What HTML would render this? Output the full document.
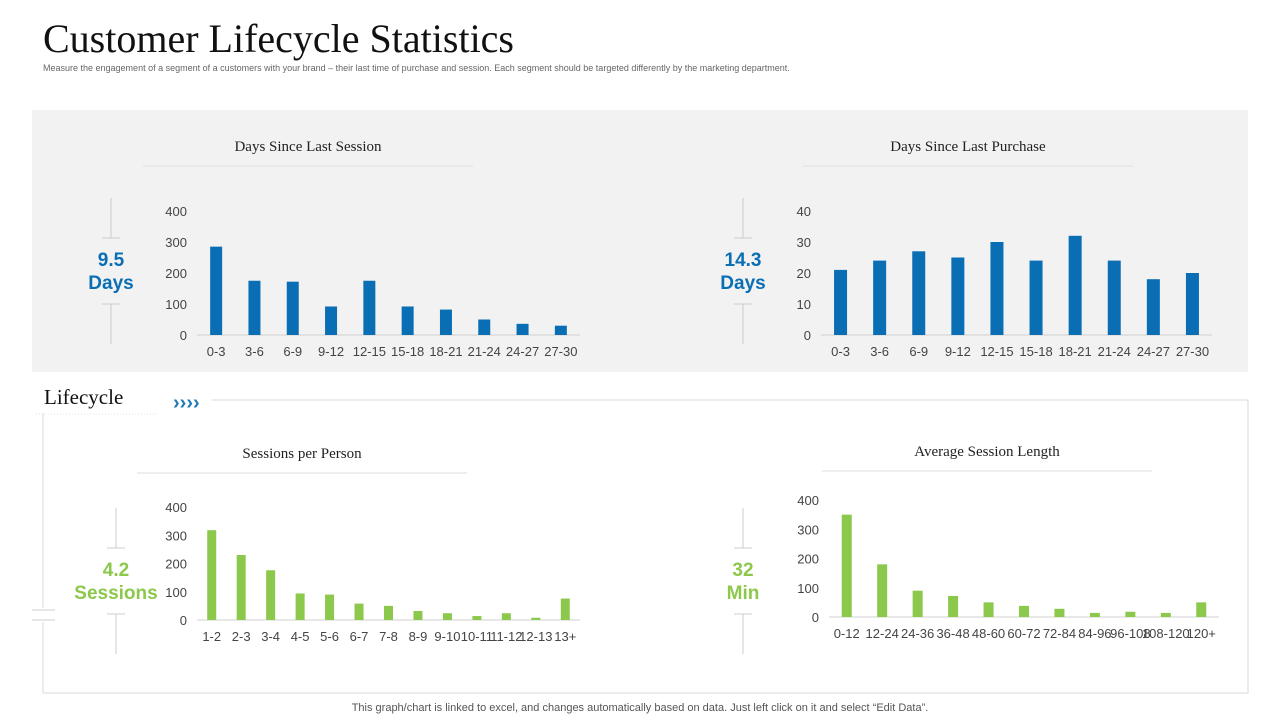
<!DOCTYPE html>
<html><head><meta charset="utf-8"><style>
body{margin:0;width:1280px;height:720px;background:#fff;overflow:hidden;font-family:"Liberation Sans",sans-serif;}
svg{position:absolute;left:0;top:0}
</style></head><body>
<svg width="1280" height="720">
<text x="43" y="52" font-family="Liberation Serif" font-size="40" fill="#111">Customer Lifecycle Statistics</text>
<text x="43" y="71" font-size="9" fill="#666">Measure the engagement of a segment of a customers with your brand – their last time of purchase and session. Each segment should be targeted differently by the marketing department.</text>
<rect x="32" y="110" width="1216" height="262" fill="#f2f2f2"/>
<rect x="43" y="400" width="1205" height="293" fill="none" stroke="#d9d9d9"/>
<rect x="32" y="383" width="180" height="30" fill="#fff"/>
<text x="44" y="404" font-family="Liberation Serif" font-size="21" fill="#111">Lifecycle</text>
<line x1="36" y1="414" x2="158" y2="414" stroke="#e0e0e0" stroke-dasharray="1 2"/>
<text x="173" y="409" font-size="20" fill="#1f7ab8" font-weight="bold">››››</text>
<rect x="30" y="608" width="30" height="14" fill="#fff"/>
<line x1="32" y1="610" x2="55" y2="610" stroke="#ccc"/><line x1="32" y1="620" x2="55" y2="620" stroke="#ccc"/>
<text x="640" y="711" text-anchor="middle" font-size="11" fill="#555">This graph/chart is linked to excel, and changes automatically based on data. Just left click on it and select “Edit Data”.</text>
<g id="charts"></g>
</svg>
<script>
const c1Cats=["0-3","3-6","6-9","9-12","12-15","15-18","18-21","21-24","24-27","27-30"];
const c1Vals=[285,175,172,92,175,92,82,50,36,30];
const c1Ticks=[0,100,200,300,400];
const c2Cats=["0-3","3-6","6-9","9-12","12-15","15-18","18-21","21-24","24-27","27-30"];
const c2Vals=[21,24,27,25,30,24,32,24,18,20];
const c2Ticks=[0,10,20,30,40];
const c3Cats=["1-2","2-3","3-4","4-5","5-6","6-7","7-8","8-9","9-10","10-11","11-12","12-13","13+"];
const c3Vals=[318,230,176,94,90,58,50,32,24,14,24,8,76];
const c3Ticks=[0,100,200,300,400];
const c4Cats=["0-12","12-24","24-36","36-48","48-60","60-72","72-84","84-96","96-108","108-120","120+"];
const c4Vals=[350,180,90,72,50,38,28,14,18,14,50];
const c4Ticks=[0,100,200,300,400];

const NS="http://www.w3.org/2000/svg";
const root=document.getElementById('charts');
function mk(tag,attrs,parent){const e=document.createElementNS(NS,tag);for(const k in attrs)e.setAttribute(k,attrs[k]);(parent||root).appendChild(e);return e;}
function chart(o){
  const g=mk('g',{});
  
  
  const max=o.ticks[o.ticks.length-1];
  const y=v=>o.y0-(v/max)*(o.y0-o.yTop);
  const step=(o.x1-o.x0)/o.cats.length;
  const x=i=>o.x0+step*(i+0.5);
  const t=mk('text',{x:o.titleX,y:o.titleY,'text-anchor':'middle','font-family':'Liberation Serif','font-size':15,fill:'#222'},g);
  t.textContent=o.title;
  
  
  mk('line',{x1:o.titleX-165,x2:o.titleX+165,y1:o.titleY+15,y2:o.titleY+15,stroke:'#ddd'},g);
  o.ticks.forEach(v=>{const tt=mk('text',{x:o.x0-10,y:y(v)+5,'text-anchor':'end','font-size':13,fill:'#444'},g);tt.textContent=v;
    
    });
  const ax=mk('line',{x1:o.x0,x2:o.x1,y1:o.y0,y2:o.y0,stroke:'#d0d0d0'},g);
  
  
  o.vals.forEach((v,i)=>{const r=mk('rect',{x:x(i)-o.bw/2,y:y(v),width:o.bw,height:o.y0-y(v),fill:o.color},g);
    
    });
  o.cats.forEach((c,i)=>{let lt;
    if(o.rot){lt=mk('text',{x:x(i)+4,y:o.y0+14,'text-anchor':'end','font-size':13,fill:'#444',transform:`rotate(-45 ${x(i)+4} ${o.y0+14})`},g);}
    else lt=mk('text',{x:x(i),y:o.y0+21,'text-anchor':'middle','font-size':13,fill:'#444'},g);
    lt.textContent=c;
    
    });
  // KPI
  const kx=o.kx,ky=o.ky;
  mk('line',{x1:kx,x2:kx,y1:ky-62,y2:ky-22,stroke:'#ccc'},g);
  mk('line',{x1:kx-9,x2:kx+9,y1:ky-22,y2:ky-22,stroke:'#ccc'},g);
  mk('line',{x1:kx,x2:kx,y1:ky+44,y2:ky+84,stroke:'#ccc'},g);
  mk('line',{x1:kx-9,x2:kx+9,y1:ky+44,y2:ky+44,stroke:'#ccc'},g);
  o.kpi.forEach((s,i)=>{const k=mk('text',{x:kx,y:ky+6+i*23,'text-anchor':'middle','font-size':19,'font-weight':'bold',fill:o.color},g);k.textContent=s;
    
    });
}
chart({name:'days-since-last-session-chart',title:'Days Since Last Session',titleX:308,titleY:151,cats:c1Cats,vals:c1Vals,ticks:c1Ticks,x0:197,x1:580,y0:335,yTop:211,bw:12,color:'#0a6eb4',kx:111,ky:260,kpi:['9.5','Days']});
chart({name:'days-since-last-purchase-chart',title:'Days Since Last Purchase',titleX:968,titleY:151,cats:c2Cats,vals:c2Vals,ticks:c2Ticks,x0:821,x1:1212,y0:335,yTop:211,bw:13,color:'#0a6eb4',kx:743,ky:260,kpi:['14.3','Days']});
chart({name:'sessions-per-person-chart',title:'Sessions per Person',titleX:302,titleY:458,cats:c3Cats,vals:c3Vals,ticks:c3Ticks,x0:197,x1:580,y0:620,yTop:507,bw:9,color:'#8cc84b',kx:116,ky:570,kpi:['4.2','Sessions']});
chart({name:'average-session-length-chart',title:'Average Session Length',titleX:987,titleY:456,cats:c4Cats,vals:c4Vals,ticks:c4Ticks,x0:829,x1:1219,y0:617,yTop:500,bw:10,color:'#8cc84b',kx:743,ky:570,kpi:['32','Min']});
</script>
</body></html>
